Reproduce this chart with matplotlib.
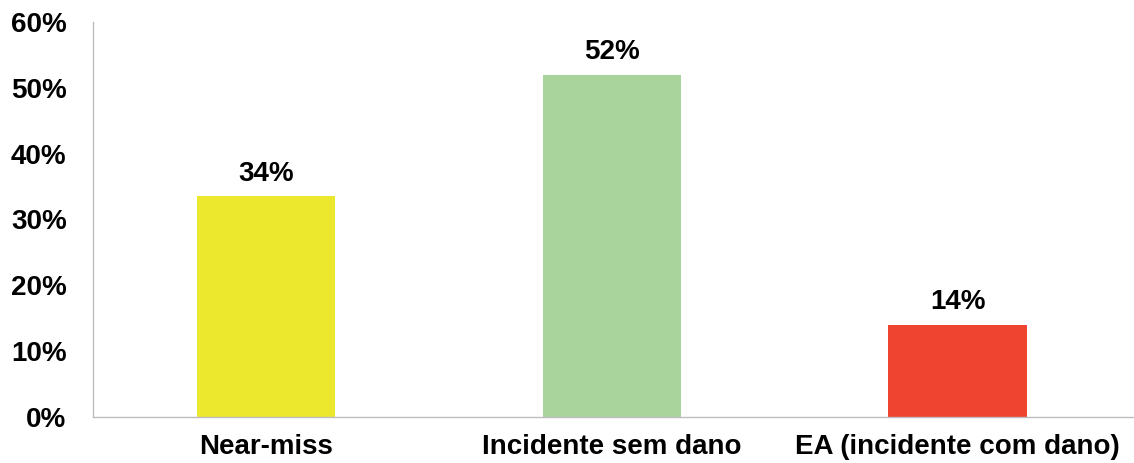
import matplotlib.pyplot as plt
from matplotlib.ticker import FuncFormatter

categories = ["Near-miss", "Incidente sem dano", "EA (incidente com dano)"]
values = [33.5, 52.0, 14.0]
value_labels = ["34%", "52%", "14%"]
colors = ["#ECE82E", "#A9D59D", "#EE4430"]
y_ticks = [0, 10, 20, 30, 40, 50, 60]

plt.rcParams['font.family'] = ['Liberation Sans', 'DejaVu Sans']
plt.rcParams['font.weight'] = 'bold'

fig = plt.figure(figsize=(11.34, 4.63), dpi=100)
ax = fig.add_axes([0.082, 0.0994, 0.918, 0.8531])

x = range(len(categories))
bars = ax.bar(x, values, width=0.4, color=colors, zorder=2)

for bar, lab in zip(bars, value_labels):
    ax.annotate(lab, (bar.get_x() + bar.get_width() / 2, bar.get_height()),
                xytext=(0, 7), textcoords='offset points',
                ha='center', va='bottom', fontsize=20, fontweight='bold')

ax.set_xlim(-0.5, 2.51)
ax.set_ylim(0, 60)
ax.set_yticks(y_ticks)
ax.yaxis.set_major_formatter(FuncFormatter(lambda v, p: f"{v:.0f}%"))
ax.set_xticks(list(x))
ax.set_xticklabels(categories)

ax.tick_params(axis='y', length=0, pad=19, labelsize=20)
ax.tick_params(axis='x', length=0, pad=12, labelsize=20)

for s in ['top', 'right']:
    ax.spines[s].set_visible(False)
for s in ['left', 'bottom']:
    ax.spines[s].set_color('#bdbdbd')
    ax.spines[s].set_linewidth(1.0)

fig.savefig("out.png", dpi=100)
